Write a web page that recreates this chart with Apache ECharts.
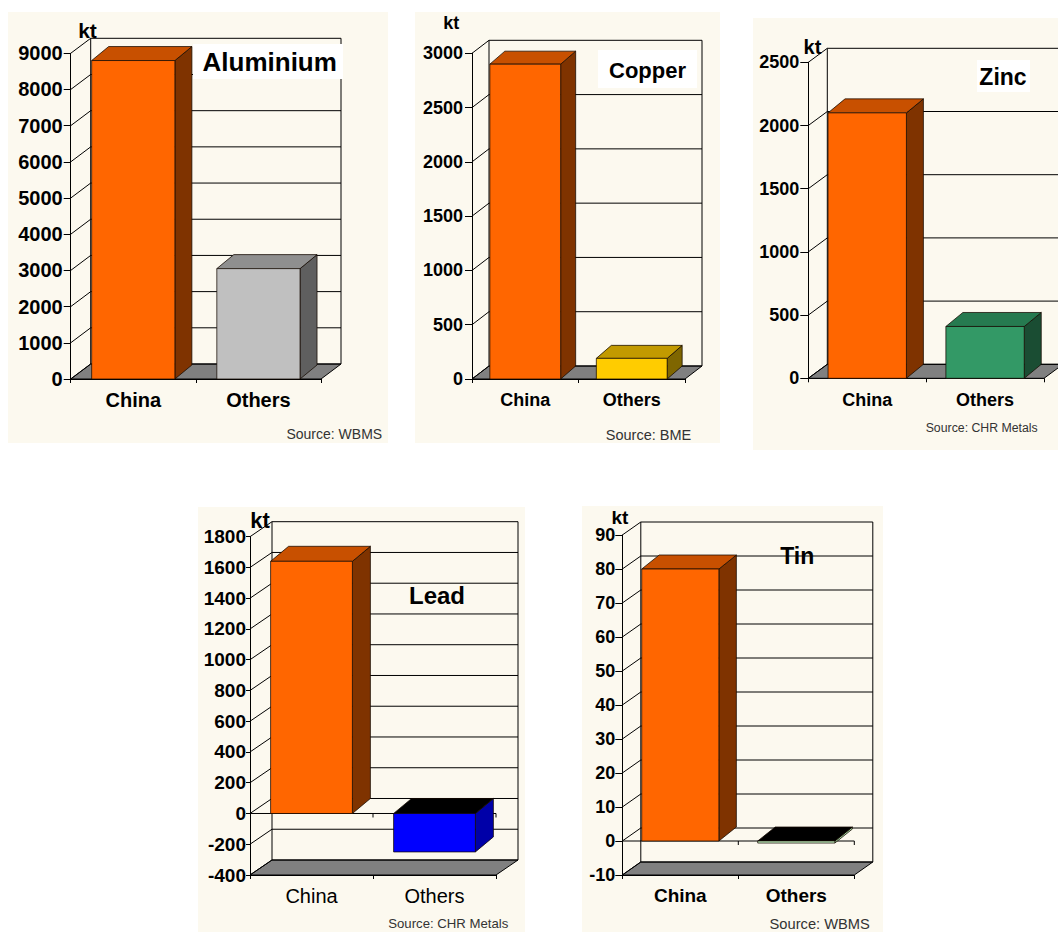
<!DOCTYPE html>
<html><head><meta charset="utf-8">
<script src="https://cdn.jsdelivr.net/npm/echarts@6/dist/echarts.min.js"></script>
<style>html,body{margin:0;padding:0;background:#fff}#c{width:1058px;height:932px}</style>
</head><body><div id="c"></div>
<script>
// ---------- data ----------
const categories = ['China', 'Others'];
const aluminiumValues = [8800, 3050];
const copperValues = [2900, 190];
const zincValues = [2100, 410];
const leadValues = [1640, -250];
const tinValues = [80, -0.6];

const aluminiumTicks = [0, 1000, 2000, 3000, 4000, 5000, 6000, 7000, 8000, 9000];
const copperTicks = [0, 500, 1000, 1500, 2000, 2500, 3000];
const zincTicks = [0, 500, 1000, 1500, 2000, 2500];
const leadTicks = [-400, -200, 0, 200, 400, 600, 800, 1000, 1200, 1400, 1600, 1800];
const tinTicks = [-10, 0, 10, 20, 30, 40, 50, 60, 70, 80, 90];

const metalNames = ['Aluminium', 'Copper', 'Zinc', 'Lead', 'Tin'];
const sourceLabels = ['Source: WBMS', 'Source: BME', 'Source: CHR Metals', 'Source: CHR Metals', 'Source: WBMS'];
const unitLabel = 'kt';

// ---------- styles ----------
const FONT = '"Liberation Sans", Arial, Helvetica, sans-serif';
const PANEL_BG = '#FCF9EF';
const ORANGE = {front: '#FF6600', top: '#C85000', side: '#7F3300'};
const GRAY = {front: '#C0C0C0', top: '#8F8F8F', side: '#5F5F5F'};
const YELLOW = {front: '#FFCC00', top: '#C29A00', side: '#7F6600'};
const GREEN = {front: '#339966', top: '#267A50', side: '#1A4D33'};
const BLUE = {front: '#0000FF', top: '#000000', side: '#0000A8'};
const PALEGREEN = {front: '#CCFFCC', top: '#000000', side: '#99CC99'};

// ---------- layout ----------
const panels = [
  {values: aluminiumValues, ticks: aluminiumTicks, colors: [ORANGE, GRAY],
   bg: [8, 12, 380, 431], grid: [70.7, 53.3, 250.3, 325.7], wall: [20, -15], bar: [17, -14],
   yFont: 20, tickLen: 7, yMargin: 8, xFont: 20, xWeight: 'bold', xMargin: 11,
   kt: [87.5, 30, 21], title: [269.7, 61.7, 26], box: [193, 44, 150, 35], src: [334.3, 434.3, 14]},
  {values: copperValues, ticks: copperTicks, colors: [ORANGE, YELLOW],
   bg: [415, 12, 305, 431], grid: [472, 53.3, 213, 325.7], wall: [17, -13], bar: [15, -13],
   yFont: 18, tickLen: 7, yMargin: 9, xFont: 18, xWeight: 'bold', xMargin: 12,
   kt: [451.3, 23.3, 18], title: [647.5, 70, 22], box: [598, 50, 99, 38], src: [648.5, 435, 14.5]},
  {values: zincValues, ticks: zincTicks, colors: [ORANGE, GREEN],
   bg: [753, 18, 305, 432], grid: [808.3, 62.3, 235.7, 316], wall: [19, -14], bar: [17, -14],
   yFont: 18, tickLen: 8, yMargin: 9, xFont: 18, xWeight: 'bold', xMargin: 13,
   kt: [812.5, 46.7, 20], title: [1003, 77.3, 23], box: [977, 60, 53, 32], src: [981.7, 428.3, 12.3]},
  {values: leadValues, ticks: leadTicks, colors: [ORANGE, BLUE],
   bg: [198, 507, 327, 425], grid: [250, 536.7, 246, 338.3], wall: [22, -15], bar: [18, -15],
   yFont: 19, tickLen: 4, yMargin: 4, xFont: 20, xWeight: 'normal', xMargin: 11,
   kt: [260, 520.7, 22], title: [437, 595, 24], box: null, src: [448.3, 923.5, 13.2]},
  {values: tinValues, ticks: tinTicks, colors: [ORANGE, PALEGREEN],
   bg: [582, 506, 301, 426], grid: [622.3, 535, 232, 340], wall: [18.5, -13], bar: [17.5, -14],
   yFont: 18, tickLen: 7, yMargin: 7, xFont: 19, xWeight: 'bold', xMargin: 11,
   kt: [620, 517.3, 19], title: [797.2, 556, 23], box: null, src: [819.7, 924, 14.7]}
];

const grids = [], xAxes = [], yAxes = [], series = [], graphics = [];

panels.forEach((p, k) => {
  const tMin = p.ticks[0], tMax = p.ticks[p.ticks.length - 1];
  const interval = p.ticks[1] - p.ticks[0];
  grids.push({left: p.grid[0], top: p.grid[1], width: p.grid[2], height: p.grid[3],
              containLabel: false, outerBoundsMode: 'none'});
  xAxes.push({
    gridIndex: k, type: 'category', data: categories, boundaryGap: true,
    axisLine: {show: true, onZero: false, lineStyle: {color: '#000', width: 1}},
    axisTick: {show: true, length: 4, lineStyle: {color: '#000'}},
    axisLabel: {fontFamily: FONT, fontSize: p.xFont, fontWeight: p.xWeight, color: '#000', margin: p.xMargin},
    splitLine: {show: false}
  });
  yAxes.push({
    gridIndex: k, type: 'value', min: tMin, max: tMax, interval: interval,
    axisLine: {show: true, lineStyle: {color: '#000', width: 1}},
    axisTick: {show: true, length: p.tickLen, lineStyle: {color: '#000'}},
    axisLabel: {fontFamily: FONT, fontSize: p.yFont, fontWeight: 'bold', color: '#000', margin: p.yMargin,
                formatter: v => String(v)},
    splitLine: {show: false}
  });

  // back wall, gridlines, floor
  series.push({
    type: 'custom', xAxisIndex: k, yAxisIndex: k, z: 1, silent: true, clip: false,
    data: p.ticks.map(v => [0, v]),
    renderItem: (params, api) => {
      const cs = params.coordSys;
      const xL = cs.x, xR = cs.x + cs.width;
      const dx = p.wall[0], dy = p.wall[1];
      const v = api.value(1);
      const y = api.coord([0, v])[1];
      const ln = {stroke: '#000', lineWidth: 1};
      const children = [];
      if (params.dataIndex === 0) {
        const yMin = api.coord([0, tMin])[1];
        const yMax = api.coord([0, tMax])[1];
        children.push({type: 'line', shape: {x1: xL + dx, y1: yMin + dy, x2: xL + dx, y2: yMax + dy}, style: ln});
        children.push({type: 'line', shape: {x1: xR + dx, y1: yMin + dy, x2: xR + dx, y2: yMax + dy}, style: ln});
        children.push({type: 'polygon', shape: {points: [[xL, yMin], [xR, yMin], [xR + dx, yMin + dy], [xL + dx, yMin + dy]]},
                       style: {fill: '#808080', stroke: '#000', lineWidth: 1}});
        if (tMin < 0) {
          const y0 = api.coord([0, 0])[1];
          const band = api.size([1, 0])[0];
          children.push({type: 'line', z2: 5, shape: {x1: xL, y1: y0, x2: xR, y2: y0}, style: ln});
          for (let b = 1; b <= categories.length; b++) {
            children.push({type: 'line', z2: 5, shape: {x1: xL + b * band, y1: y0, x2: xL + b * band, y2: y0 + 4}, style: ln});
          }
        }
      }
      children.push({type: 'line', shape: {x1: xL + dx, y1: y + dy, x2: xR + dx, y2: y + dy}, style: ln});
      children.push({type: 'line', shape: {x1: xL, y1: y, x2: xL + dx, y2: y + dy}, style: ln});
      return {type: 'group', children: children};
    }
  });

  // 3D bars
  series.push({
    type: 'custom', xAxisIndex: k, yAxisIndex: k, z: 3, silent: true, clip: false,
    data: p.values.map((v, i) => [i, v]),
    renderItem: (params, api) => {
      const i = api.value(0), v = api.value(1);
      const base = api.coord([i, 0]), end = api.coord([i, v]);
      const band = api.size([1, 0])[0];
      const w = band * 0.665;
      const x0 = base[0] - w / 2, x1 = base[0] + w / 2;
      const yT = Math.min(base[1], end[1]), yB = Math.max(base[1], end[1]);
      const bx = p.bar[0], by = p.bar[1];
      const c = p.colors[params.dataIndex];
      const edge = {stroke: 'rgba(20,10,0,0.75)', lineWidth: 1};
      return {type: 'group', children: [
        {type: 'polygon', shape: {points: [[x1, yT], [x1 + bx, yT + by], [x1 + bx, yB + by], [x1, yB]]},
         style: Object.assign({fill: c.side}, edge)},
        {type: 'polygon', shape: {points: [[x0, yT], [x1, yT], [x1 + bx, yT + by], [x0 + bx, yT + by]]},
         style: Object.assign({fill: c.top}, edge)},
        {type: 'rect', shape: {x: x0, y: yT, width: w, height: Math.max(yB - yT, 1)},
         style: Object.assign({fill: c.front}, edge)}
      ]};
    }
  });

  // panel background
  graphics.push({type: 'rect', z: -100, silent: true,
    shape: {x: p.bg[0], y: p.bg[1], width: p.bg[2], height: p.bg[3]}, style: {fill: PANEL_BG}});
  // title box
  if (p.box) {
    graphics.push({type: 'rect', z: 50, silent: true,
      shape: {x: p.box[0], y: p.box[1], width: p.box[2], height: p.box[3]}, style: {fill: '#FFFFFF'}});
  }
  graphics.push({type: 'text', z: 60, silent: true, x: p.title[0], y: p.title[1],
    style: {text: metalNames[k], fontFamily: FONT, fontSize: p.title[2], fontWeight: 'bold', fill: '#000',
            align: 'center', verticalAlign: 'middle'}});
  graphics.push({type: 'text', z: 60, silent: true, x: p.kt[0], y: p.kt[1],
    style: {text: unitLabel, fontFamily: FONT, fontSize: p.kt[2], fontWeight: 'bold', fill: '#000',
            align: 'center', verticalAlign: 'middle'}});
  graphics.push({type: 'text', z: 60, silent: true, x: p.src[0], y: p.src[1],
    style: {text: sourceLabels[k], fontFamily: FONT, fontSize: p.src[2], fontWeight: 'normal', fill: '#333',
            align: 'center', verticalAlign: 'middle'}});
});

const chart = echarts.init(document.getElementById('c'), null, {renderer: 'svg', width: 1058, height: 932});
chart.setOption({
  backgroundColor: '#FFFFFF',
  animation: false,
  grid: grids,
  xAxis: xAxes,
  yAxis: yAxes,
  series: series,
  graphic: {elements: graphics}
});
</script>
</body></html>
